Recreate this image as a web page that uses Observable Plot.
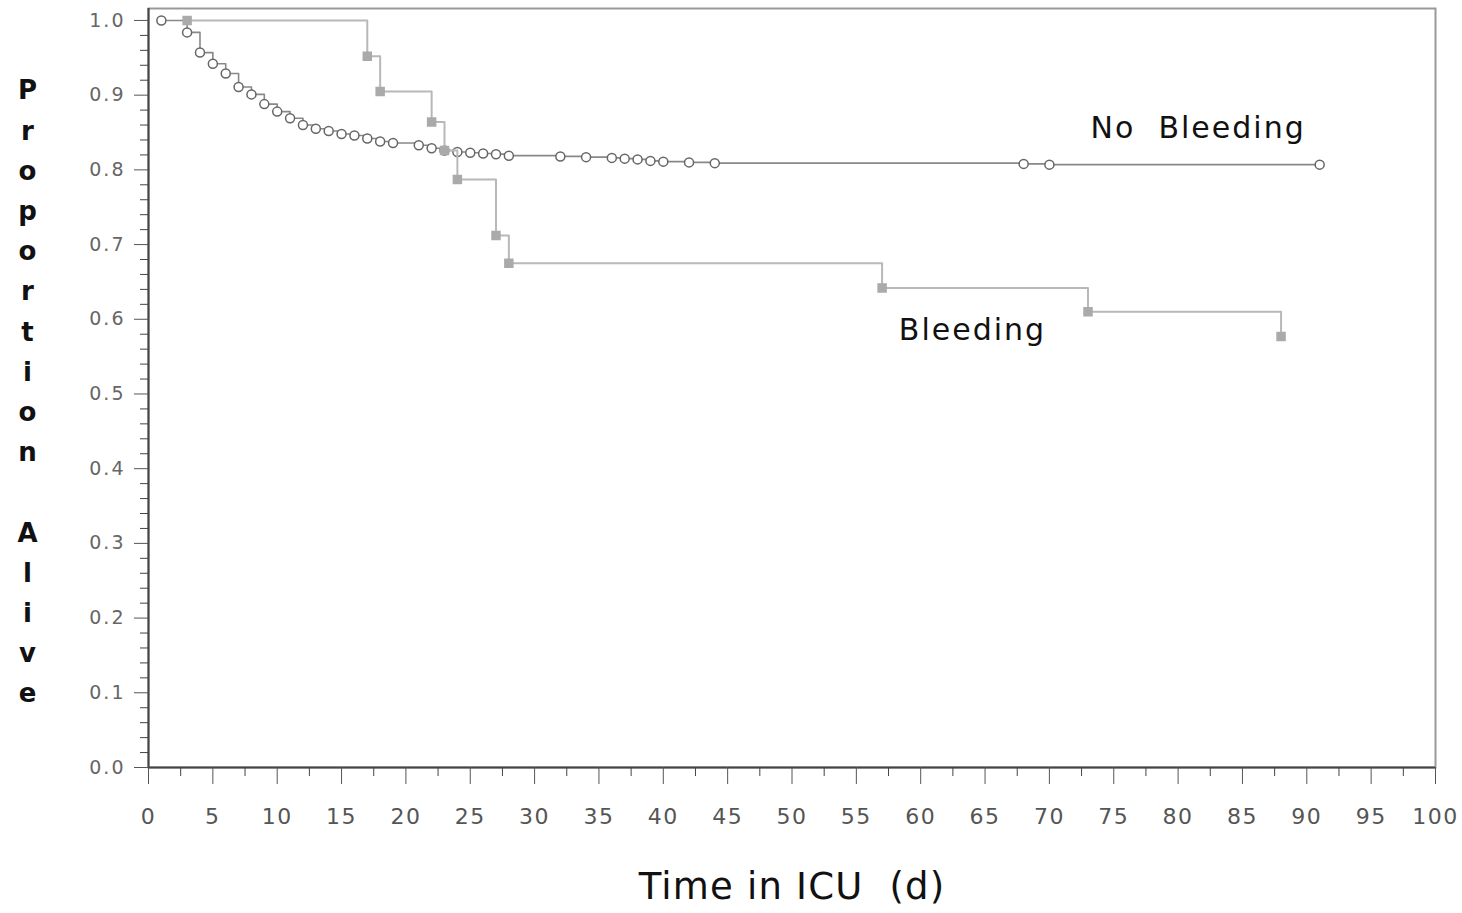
<!DOCTYPE html>
<html>
<head>
<meta charset="utf-8">
<script src="https://cdn.jsdelivr.net/npm/d3@7"></script>
<script src="https://cdn.jsdelivr.net/npm/@observablehq/plot@0.6"></script>
<style>
  html, body { margin: 0; padding: 0; background: #fff; }
  #chart svg { display: block; }
  #chart text { white-space: pre; }
  #chart g[aria-label="x-axis tick label"] text { letter-spacing: 1.5px; }
  #chart g[aria-label="y-axis tick label"] text { letter-spacing: 2px; }
</style>
</head>
<body>
<div id="chart"></div>
<script>
// ---- Data ----
const noBleedTime = [1, 3, 4, 5, 6, 7, 8, 9, 10, 11, 12, 13, 14, 15, 16, 17, 18, 19, 21, 22, 23, 24, 25, 26, 27, 28, 32, 34, 36, 37, 38, 39, 40, 42, 44, 68, 70, 91];
const noBleedSurv = [1.0, 0.984, 0.957, 0.942, 0.929, 0.911, 0.901, 0.888, 0.878, 0.869, 0.860, 0.855, 0.852, 0.848, 0.846, 0.842, 0.838, 0.836, 0.833, 0.829, 0.826, 0.824, 0.823, 0.822, 0.821, 0.819, 0.818, 0.817, 0.816, 0.815, 0.814, 0.812, 0.811, 0.810, 0.809, 0.808, 0.807, 0.807];

const bleedTime = [3, 17, 18, 22, 23, 24, 27, 28, 57, 73, 88];
const bleedSurv = [1.0, 0.952, 0.905, 0.864, 0.826, 0.787, 0.712, 0.675, 0.642, 0.610, 0.577];

const curveLabels = ["No  Bleeding", "Bleeding"];
const curveLabelX = [73.2, 58.3];
const curveLabelY = [0.855, 0.585];

const xMajorTicks = d3.range(0, 101, 5);
const xMinorTicks = d3.range(2.5, 100, 5);
const yMajorTicks = d3.range(0, 11).map(d => d / 10);
const yMinorTicks = d3.range(0, 51).map(d => d / 50).filter(d => Math.round(d * 50) % 5 !== 0);

const yTitle = "Proportion Alive";
const xTitle = "Time in ICU  (d)";

// ---- Build tables ----
const noBleed = noBleedTime.map((t, i) => ({t, s: noBleedSurv[i]}));
const bleed = bleedTime.map((t, i) => ({t, s: bleedSurv[i]}));
const labels = curveLabels.map((name, i) => ({name, x: curveLabelX[i], y: curveLabelY[i]}));

const chart = Plot.plot({
  width: 1462,
  height: 913,
  marginTop: 8,
  marginBottom: 146,
  marginLeft: 148,
  marginRight: 27,
  x: {domain: [0, 100]},
  y: {domain: [0, 1.016]},
  style: {fontFamily: "'DejaVu Sans', sans-serif", background: "#fff", color: "#333"},
  marks: [
    Plot.frame({stroke: "#999", strokeWidth: 2}),
    Plot.ruleX([0], {stroke: "#444", strokeWidth: 2}),
    Plot.ruleY([0], {stroke: "#444", strokeWidth: 2}),
    Plot.axisX(xMajorTicks, {tickSize: 17, tickPadding: 24, fontSize: 22, stroke: "#555", fill: "#555", label: null, tickFormat: d => String(d)}),
    Plot.axisX(xMinorTicks, {tickSize: 9, stroke: "#444", label: null, tickFormat: () => ""}),
    Plot.axisY(yMajorTicks, {tickSize: 14, tickPadding: 9, fontSize: 19, stroke: "#555", fill: "#666", label: null, tickFormat: d3.format(".1f")}),
    Plot.axisY(yMinorTicks, {tickSize: 8, stroke: "#444", label: null, tickFormat: () => ""}),
    // No Bleeding curve
    Plot.line(noBleed, {x: "t", y: "s", curve: "step-after", stroke: "#888", strokeWidth: 1.6}),
    Plot.dot(noBleed, {x: "t", y: "s", r: 4.5, stroke: "#666", strokeWidth: 1.5, fill: "#fff"}),
    // Bleeding curve
    Plot.line(bleed, {x: "t", y: "s", curve: "step-after", stroke: "#b8b8b8", strokeWidth: 2}),
    Plot.dot(bleed, {x: "t", y: "s", r: 4.5, symbol: "square", fill: "#aaa", stroke: "#aaa"}),
    // Curve labels
    Plot.text(labels, {x: "x", y: "y", text: "name", textAnchor: "start", fontSize: 30, fill: "#111"}),
    // Axis titles
    Plot.text([yTitle.split("").join("\n")], {frameAnchor: "left", dx: -121, fontSize: 26, fontWeight: "bold", lineHeight: 1.546, fill: "#111", textAnchor: "middle"}),
    Plot.text([xTitle], {frameAnchor: "bottom", dy: 131, fontSize: 37, fill: "#111"})
  ]
});
// letter spacing to mimic the wide lettering of the original
d3.select(chart).selectAll("text").each(function () {
  const t = this.textContent;
  if (curveLabels.includes(t)) this.style.letterSpacing = "2px";
  else if (t === xTitle) this.style.letterSpacing = "1.2px";
});
document.getElementById("chart").appendChild(chart);
</script>
</body>
</html>
